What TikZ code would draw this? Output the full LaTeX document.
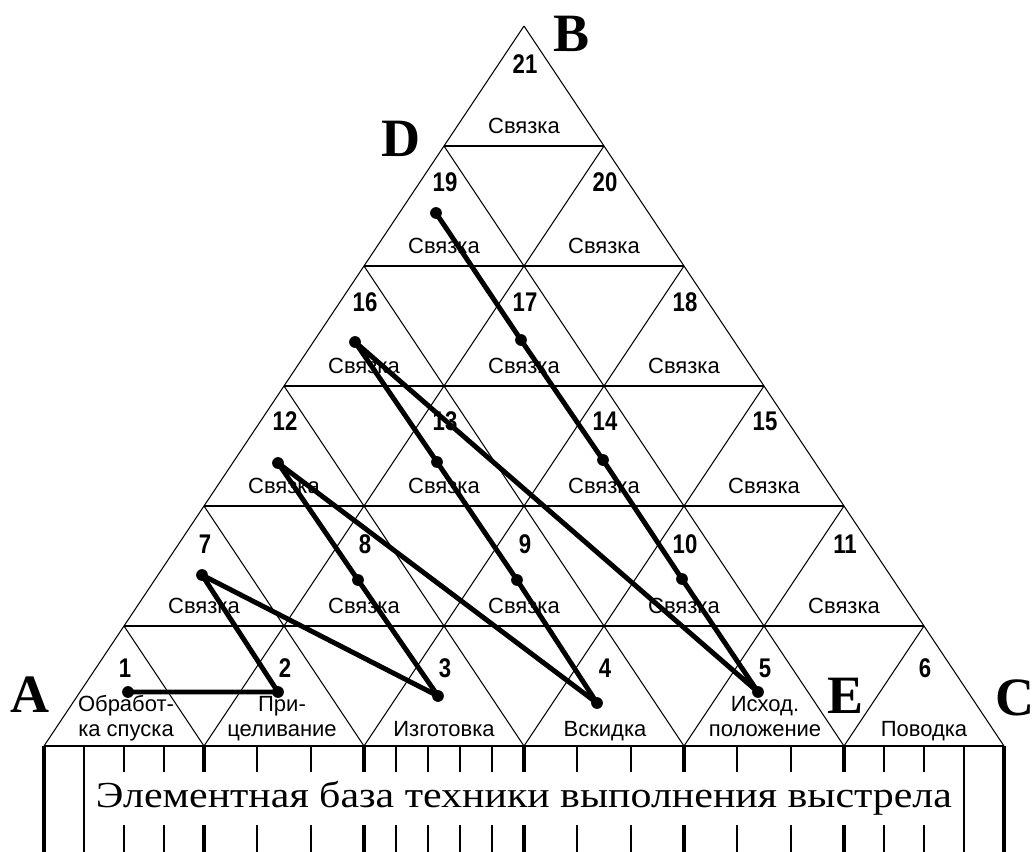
\documentclass[tikz,border=0pt]{standalone}
\usepackage{graphicx}
\usepackage{fontspec}
\setmainfont{Liberation Serif}
\setsansfont{Liberation Sans}
\tikzset{
  gridthin/.style={line width=0.8pt, black},
  gridrow/.style={line width=1.5pt, black},
  tnum/.style={font=\sffamily\bfseries\fontsize{20.25}{24}\selectfont, inner sep=0pt},
  tlab/.style={font=\sffamily\fontsize{16.5}{18.75}\selectfont, inner sep=0pt},
  vlabel/.style={font=\rmfamily\bfseries\fontsize{40.5}{45}\selectfont, inner sep=0pt},
  pdot/.style={circle, fill=black, draw=none, inner sep=0pt, minimum size=8.8pt},
  route/.style={line width=3.7pt, line cap=round, line join=round},
  tickthick/.style={line width=2.4pt},
  tickthin/.style={line width=1.4pt},
  rulertext/.style={font=\rmfamily\fontsize{27.5}{30}\selectfont, inner sep=0pt, anchor=base}
}
\newcommand{\twolines}[2]{\begin{tabular}[b]{@{}c@{}}#1\\#2\end{tabular}}
\newcommand{\numtxt}[1]{\scalebox{0.82}[1]{#1}}
\begin{document}
\begin{tikzpicture}[x=0.75pt, y=-0.75pt]
  \fill[white] (0,0) rectangle (1034,852);
  \useasboundingbox (0,0) rectangle (1034,852);

  % triangular grid
  \foreach \j in {0,...,5} {
    \draw[gridthin] (44+160*\j,746) -- (524+80*\j,26+120*\j);
    \draw[gridthin] (1004-160*\j,746) -- (524-80*\j,26+120*\j);
  }
  \foreach \k in {1,...,6} {
    \draw[gridrow] (524-80*\k,26+120*\k) -- (524+80*\k,26+120*\k);
  }

  % numbers and "Связка" labels (rows 1..5)
  \foreach \k/\off in {1/38,2/36,3/36,4/35,5/38} {
    \foreach \i in {1,...,\k} {
      \pgfmathtruncatemacro\num{21-\k*(\k+1)/2+\i}
      \pgfmathsetmacro\ax{524-80*(\k-1)+160*(\i-1)}
      \pgfmathsetmacro\ay{26+120*(\k-1)}
      \node[tnum] (n\num) at (\ax+1,\ay+\off) {\numtxt{\num}};
      \node[tlab] (l\num) at (\ax,\ay+100) {Связка};
    }
  }
  % bottom row
  \foreach \i in {1,...,6} {
    \node[tnum] (n\i) at (124+160*\i-160+1,626+42) {\numtxt{\i}};
  }
  \node[tlab, anchor=base] (l1) at (126,736) {\twolines{Обработ-}{ка спуска}};
  \node[tlab, anchor=base] (l2) at (282,736) {\twolines{При-}{целивание}};
  \node[tlab, anchor=base] (l3) at (444,736) {Изготовка};
  \node[tlab, anchor=base] (l4) at (605,736) {Вскидка};
  \node[tlab, anchor=base] (l5) at (765,736) {\twolines{Исход.}{положение}};
  \node[tlab, anchor=base] (l6) at (924,736) {Поводка};

  % corner letters
  \node[vlabel] (A) at (30,695) {A};
  \node[vlabel] (B) at (572,34) {B};
  \node[vlabel] (C) at (1015,698) {C};
  \node[vlabel] (D) at (401,139) {D};
  \node[vlabel] (E) at (845,696) {E};

  % ruler
  \draw[tickthick] (44,746) -- (44,852);
  \draw[tickthick] (1004,746) -- (1004,852);
  \draw[tickthin] (84,746) -- (84,852);
  \draw[tickthin] (964,746) -- (964,852);
  \foreach \x in {204,364,524,684,844} {
    \draw[tickthick] (\x,746) -- (\x,772);
    \draw[tickthick] (\x,825) -- (\x,852);
  }
  \foreach \x in {124,164,257,311,396,428,460,492,577,631,737,791,884,924} {
    \draw[tickthin] (\x,746) -- (\x,772);
    \draw[tickthin] (\x,825) -- (\x,852);
  }
  \node[rulertext] (title) at (524,807) {\resizebox{642pt}{\height}{Элементная база техники выполнения выстрела}};

  % route dots
  \node[pdot] (p1) at (128,692) {};
  \node[pdot] (p2) at (278,692) {};
  \node[pdot] (p3) at (438,696) {};
  \node[pdot] (p4) at (597,703) {};
  \node[pdot] (p5) at (758,692) {};
  \node[pdot] (p7) at (202,575) {};
  \node[pdot] (p8) at (358,580) {};
  \node[pdot] (p9) at (517,580) {};
  \node[pdot] (p10) at (682,579) {};
  \node[pdot] (p12) at (278,463) {};
  \node[pdot] (p13) at (437,462) {};
  \node[pdot] (p14) at (603,460) {};
  \node[pdot] (p16) at (355,342) {};
  \node[pdot] (p17) at (521,340) {};
  \node[pdot] (p19) at (436,213) {};

  \draw[route] (p1.center) -- (p2.center) -- (p7.center) -- (p3.center)
    -- (p8.center) -- (p12.center) -- (p4.center) -- (p9.center)
    -- (p13.center) -- (p16.center) -- (p5.center) -- (p10.center)
    -- (p14.center) -- (p17.center) -- (p19.center);
\end{tikzpicture}
\end{document}
